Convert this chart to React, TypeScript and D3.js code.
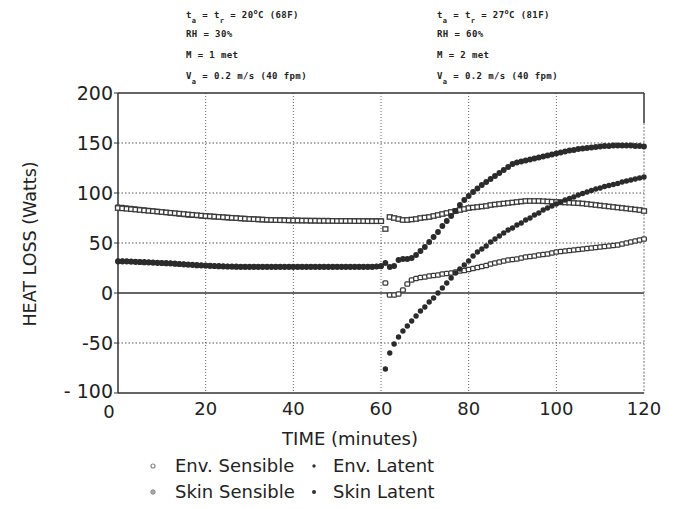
import React from "react";
import * as d3 from "d3";

const minutes = d3.range(0, 121);

const envSensible = [
  86, 85.5, 85, 84.5, 84, 83.5, 83, 82.5, 82, 81.5,
  81, 80.5, 80, 79.5, 79, 78.5, 78, 77.8, 77.5, 77.2,
  77, 76.6, 76.3, 76, 75.7, 75.4, 75.1, 74.8, 74.5, 74.3,
  74, 73.8, 73.6, 73.4, 73.2, 73.1, 73, 72.9, 72.8, 72.7,
  72.6, 72.6, 72.5, 72.5, 72.4, 72.4, 72.3, 72.3, 72.3, 72.2,
  72.2, 72.2, 72.1, 72.1, 72.1, 72, 72, 72, 72, 72,
  72,
  10, -2, -2, -1, 3, 9, 13, 14.5, 15.5, 16,
  17, 17.5, 18, 19, 19.5, 20, 21, 22, 22.5, 23.5,
  24.5, 25.5, 26.5, 27.5, 29, 30, 31, 32, 33, 33.5,
  34, 35, 36, 36.5, 37, 38, 38.5, 39, 40, 41,
  41.5, 42, 42.5, 43, 43.5, 44, 44.5, 45, 45.5, 46,
  46.5, 47, 47.5, 48, 49, 50, 51, 52, 53, 54,
];

const skinSensible = [
  85, 84.6, 84.2, 83.8, 83.4, 83, 82.6, 82.2, 81.8, 81.4,
  81, 80.6, 80.2, 79.8, 79.4, 79, 78.6, 78.2, 77.8, 77.4,
  77, 76.7, 76.4, 76.1, 75.8, 75.5, 75.2, 74.9, 74.6, 74.3,
  74, 73.8, 73.6, 73.4, 73.2, 73, 72.9, 72.8, 72.7, 72.6,
  72.5, 72.5, 72.4, 72.4, 72.3, 72.3, 72.2, 72.2, 72.1, 72.1,
  72, 72, 72, 72, 71.9, 71.9, 71.9, 71.8, 71.8, 71.8,
  71.8,
  64, 76, 75, 74, 73, 73, 73.5, 74, 75, 75.5,
  76, 77, 78, 79, 80, 81, 82, 83, 84, 85,
  85.5, 86, 86.5, 87, 88, 88.5, 89, 89.5, 90, 90.5,
  91, 91.5, 92, 92, 92, 92, 91.8, 91.5, 91.3, 91,
  90.7, 90.5, 90.3, 90, 89.8, 89.5, 89, 88.5, 88, 87.5,
  87, 86.5, 86, 85.5, 85, 84.5, 84, 83.5, 83, 82,
];

const envLatent = [
  32, 32, 32, 31.8, 31.6, 31.4, 31.2, 31, 30.8, 30.6,
  30.4, 30.2, 30, 29.7, 29.4, 29.1, 28.8, 28.5, 28.2, 28,
  27.8, 27.6, 27.4, 27.2, 27, 26.9, 26.8, 26.7, 26.6, 26.5,
  26.5, 26.5, 26.5, 26.5, 26.5, 26.5, 26.5, 26.5, 26.5, 26.5,
  26.5, 26.5, 26.5, 26.5, 26.5, 26.5, 26.5, 26.5, 26.5, 26.5,
  26.5, 26.5, 26.5, 26.5, 26.5, 26.5, 26.5, 26.5, 26.5, 26.5,
  26.5,
  -76, -60, -51, -44, -38, -33, -28, -23, -18, -14,
  -9, -5, 0, 5, 10, 15, 20, 24, 28, 32,
  37, 41, 44, 47, 51, 54, 57, 60, 63, 65,
  68, 70, 73, 75, 78, 80, 83, 85, 87, 89,
  91, 93, 94.5, 96, 98, 99.5, 101, 102.5, 104, 105,
  106.5, 107.5, 108.5, 109.5, 111, 112, 113, 114, 115, 116,
];

const skinLatent = [
  31.5, 31.5, 31.4, 31.2, 31, 30.8, 30.6, 30.4, 30.2, 30,
  29.8, 29.6, 29.4, 29.1, 28.8, 28.5, 28.2, 27.9, 27.6, 27.4,
  27.2, 27, 26.8, 26.6, 26.4, 26.3, 26.2, 26.1, 26, 26,
  26, 26, 26, 26, 26, 26, 26, 26, 26, 26,
  26, 26, 26, 26, 26, 26, 26, 26, 26, 26,
  26, 26, 26, 26, 26, 26, 26, 26, 26, 26.5,
  27,
  30, 26, 27, 33, 34, 34, 35, 38, 42, 46,
  51, 56, 61, 67, 72, 77, 82, 88, 93, 97,
  101, 104.5, 108, 111, 114, 117, 120, 123, 126, 129,
  130.5, 131.5, 132.5, 133.5, 134.5, 135.5, 136.5, 137.5, 138.5, 139.5,
  140.5, 141.5, 142.5, 143, 144, 144.5, 145, 145.5, 146, 146.5,
  147, 147, 147.5, 147.5, 147.5, 147.5, 147.5, 147, 147, 146.5,
];

const xTicks = [0, 20, 40, 60, 80, 100, 120];
const yTicks = [200, 150, 100, 50, 0, -50, -100];
const yTickLabels = ["200", "150", "100", "50", "0", "-50", "- 100"];
const gridX = [20, 40, 60, 80, 100];
const gridY = [150, 100, 50, -50];

const leftNotes = ["t|a| = t|r| = 20^o^C (68F)", "RH = 30%", "M = 1 met", "V|a| = 0.2 m/s (40 fpm)"];
const rightNotes = ["t|a| = t|r| = 27^o^C (81F)", "RH = 60%", "M = 2 met", "V|a| = 0.2 m/s (40 fpm)"];

const legendItems = [
  { label: "Env. Sensible", kind: "envS" },
  { label: "Env. Latent", kind: "envL" },
  { label: "Skin Sensible", kind: "skinS" },
  { label: "Skin Latent", kind: "skinL" },
];

const INK = "#333";
const FONT = "'DejaVu Sans', Verdana, sans-serif";

function Note({ text, x, y }: { text: string; x: number; y: number }) {
  const parts: { t: string; mode: string }[] = [];
  let mode = "n";
  let buf = "";
  for (const ch of text) {
    if (ch === "|" || ch === "^") {
      if (buf) parts.push({ t: buf, mode });
      buf = "";
      const m = ch === "|" ? "sub" : "sup";
      mode = mode === m ? "n" : m;
    } else buf += ch;
  }
  if (buf) parts.push({ t: buf, mode });
  let current = 0;
  return (
    <text x={x} y={y} fontFamily="'DejaVu Sans Mono', monospace" fontSize={9} fill="#222" fontWeight="bold" letterSpacing={0.4}>
      {parts.map((p, i) => {
        const target = p.mode === "sub" ? 5 : p.mode === "sup" ? -4 : 0;
        const dy = target - current;
        current = target;
        return (
          <tspan key={i} dy={dy} fontSize={p.mode === "n" ? 9 : 7}>
            {p.t}
          </tspan>
        );
      })}
    </text>
  );
}

function Marker({ kind, cx, cy }: { kind: string; cx: number; cy: number }) {
  if (kind === "envS")
    return <rect x={cx - 2.4} y={cy - 2.2} width={4.8} height={4.4} rx={1.2} fill="#fff" stroke="#3a3a3a" strokeWidth={1.3} />;
  if (kind === "skinS")
    return <rect x={cx - 2.5} y={cy - 2.2} width={5} height={4.4} fill="#fff" stroke="#3a3a3a" strokeWidth={1.3} />;
  if (kind === "envL") return <circle cx={cx} cy={cy} r={2.7} fill="#2b2b2b" />;
  return <circle cx={cx} cy={cy} r={2.9} fill="#2b2b2b" />;
}

export default function App() {
  const x = d3.scaleLinear().domain([0, 120]).range([118, 644]);
  const y = d3.scaleLinear().domain([-100, 200]).range([393, 93]);

  const series = [
    { kind: "envS", values: envSensible },
    { kind: "skinS", values: skinSensible },
    { kind: "skinL", values: skinLatent },
    { kind: "envL", values: envLatent },
  ];

  return (
    <svg width={676} height={509} style={{ position: "absolute", left: 0, top: 0, background: "#fff" }}>
      {leftNotes.map((t, i) => (
        <Note key={"l" + i} text={t} x={186} y={[18, 37, 58, 79][i]} />
      ))}
      {rightNotes.map((t, i) => (
        <Note key={"r" + i} text={t} x={437} y={[18, 37, 58, 79][i]} />
      ))}

      {gridX.map((v) => (
        <line key={"gx" + v} x1={x(v)} x2={x(v)} y1={y(200)} y2={y(-100)} stroke="#666" strokeWidth={1} strokeDasharray="1 2" />
      ))}
      {gridY.map((v) => (
        <line key={"gy" + v} x1={x(0)} x2={x(120)} y1={y(v)} y2={y(v)} stroke="#555" strokeWidth={1} strokeDasharray="1.5 2" />
      ))}

      <line x1={x(0)} x2={x(120)} y1={y(200)} y2={y(200)} stroke={INK} strokeWidth={1.5} />
      <line x1={x(0)} x2={x(120)} y1={y(-100)} y2={y(-100)} stroke={INK} strokeWidth={1.5} />
      <line x1={x(0)} x2={x(120)} y1={y(0)} y2={y(0)} stroke={INK} strokeWidth={1.5} />
      <line x1={x(0)} x2={x(0)} y1={y(200)} y2={y(-100)} stroke={INK} strokeWidth={1.5} />
      <line x1={x(120)} x2={x(120)} y1={y(200)} y2={y(170)} stroke={INK} strokeWidth={1.5} />
      <line x1={x(120)} x2={x(120)} y1={y(170)} y2={y(-100)} stroke="#777" strokeWidth={1} strokeDasharray="2 1.5" />

      {yTicks.map((v, i) => (
        <g key={"yt" + v}>
          <line x1={x(0) - 4} x2={x(0)} y1={y(v)} y2={y(v)} stroke={INK} strokeWidth={1} />
          <text x={x(0) - 5} y={y(v) + 7 - (v === -100 ? 2 : 0)} textAnchor="end" fontFamily={FONT} fontSize={19} fill="#222">
            {yTickLabels[i]}
          </text>
        </g>
      ))}
      {xTicks.map((v) => (
        <text key={"xt" + v} x={v === 0 ? x(v) - 9 : x(v)} y={v === 0 ? 418 : 415} textAnchor="middle" fontFamily={FONT} fontSize={18} fill="#222">
          {v}
        </text>
      ))}

      <text transform="translate(36,244) rotate(-90)" textAnchor="middle" fontFamily={FONT} fontSize={17.5} fill="#222">
        HEAT LOSS (Watts)
      </text>
      <text x={350} y={445} textAnchor="middle" fontFamily={FONT} fontSize={18} fill="#222">
        TIME (minutes)
      </text>

      {series.map((s) => (
        <g key={s.kind}>
          {s.values.map((v, i) => (
            <Marker key={i} kind={s.kind} cx={x(minutes[i])} cy={y(v)} />
          ))}
        </g>
      ))}

      {legendItems.map((it, i) => {
        const col = i % 2;
        const row = Math.floor(i / 2);
        const mx = col === 0 ? 153 : 314;
        const ty = row === 0 ? 472 : 498;
        return (
          <g key={it.label}>
            {it.kind === "envS" ? (
              <circle cx={mx} cy={ty - 6} r={2} fill="#fff" stroke="#888" strokeWidth={1.2} />
            ) : it.kind === "skinS" ? (
              <circle cx={mx} cy={ty - 6} r={2.2} fill="#aaa" stroke="#888" strokeWidth={1} />
            ) : (
              <circle cx={mx} cy={ty - 6} r={it.kind === "envL" ? 1.7 : 2} fill="#333" />
            )}
            <text x={col === 0 ? 175 : 333} y={ty} fontFamily={FONT} fontSize={18} fill="#222">
              {it.label}
            </text>
          </g>
        );
      })}
    </svg>
  );
}
